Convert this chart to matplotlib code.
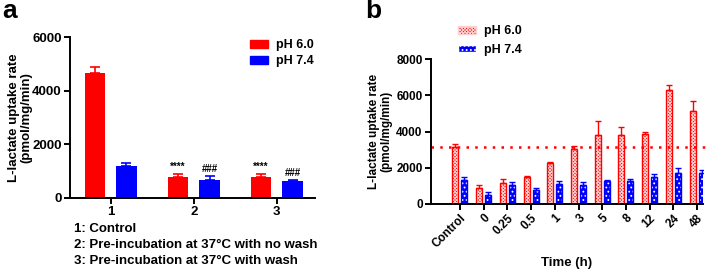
import numpy as np
import matplotlib
matplotlib.use("Agg")
import matplotlib.pyplot as plt
from matplotlib.patches import Patch

plt.rcParams['font.family'] = ['Liberation Sans', 'DejaVu Sans']
plt.rcParams['font.weight'] = 'bold'
plt.rcParams['axes.labelweight'] = 'bold'
plt.rcParams['hatch.linewidth'] = 0.8

# panel a data
a_groups = ["1", "2", "3"]
a_ph60 = [4650, 780, 800]
a_ph60_err = [220, 100, 80]
a_ph74 = [1200, 680, 620]
a_ph74_err = [90, 140, 50]
a_marks60 = ["****", "****"]
a_marks74 = ["###", "###"]
a_notes = ["1: Control",
           "2: Pre-incubation at 37\u00b0C with no wash",
           "3: Pre-incubation at 37\u00b0C with wash"]

# panel b data
b_times = ["Control", "0", "0.25", "0.5", "1", "3", "5", "8", "12", "24", "48"]
b_ph60 = [3140, 880, 1140, 1470, 2240, 3010, 3790, 3810, 3880, 6310, 5150]
b_ph60_err = [150, 190, 220, 60, 80, 190, 770, 440, 90, 280, 530]
b_ph74 = [1300, 480, 1050, 790, 1100, 1070, 1270, 1250, 1510, 1730, 1730]
b_ph74_err = [190, 180, 170, 90, 150, 150, 60, 150, 130, 260, 130]
b_control_line = 3150

RED = "#ff0000"
BLUE = "#0000ff"
off = 0.19
w = 0.25

fig = plt.figure(figsize=(7.17, 2.74), dpi=100)

# ---- panel a ----
ax = fig.add_axes([70/717, 1-198/274, 245/717, 161/274])
x = np.arange(len(a_groups))
ax.bar(x - off, a_ph60, w, color=RED, yerr=[np.zeros(3), a_ph60_err],
       error_kw=dict(ecolor=RED, capsize=3.5, elinewidth=1.2, capthick=1.2))
ax.bar(x + off, a_ph74, w, color=BLUE, yerr=[np.zeros(3), a_ph74_err],
       error_kw=dict(ecolor=BLUE, capsize=3.5, elinewidth=1.2, capthick=1.2))
for i in range(1, 3):
    ax.text(x[i] - off, a_ph60[i] + a_ph60_err[i] + 80, a_marks60[i-1],
            ha='center', va='bottom', fontsize=7)
    ax.text(x[i] + off, a_ph74[i] + a_ph74_err[i] + 80, a_marks74[i-1],
            ha='center', va='bottom', fontsize=7)
ax.set_xlim(-0.49, 2.46)
ax.set_ylim(0, 6000)
ax.set_yticks([0, 2000, 4000, 6000])
ax.set_xticks(x)
ax.set_xticklabels(a_groups)
ax.set_ylabel("L-lactate uptake rate\n(pmol/mg/min)", fontsize=9.5,
              linespacing=1.0)
ax.yaxis.set_label_coords(-0.155, 0.5)
ax.legend(handles=[Patch(color=RED, label="pH 6.0"), Patch(color=BLUE, label="pH 7.4")],
          loc='upper left', bbox_to_anchor=(250/717, 1-39/274), bbox_transform=fig.transFigure,
          frameon=False, fontsize=9, handlelength=1.45, handleheight=0.6,
          handletextpad=0.6, labelspacing=0.35, borderpad=0, borderaxespad=0)
for s in ["top", "right"]:
    ax.spines[s].set_visible(False)
for s in ["left", "bottom"]:
    ax.spines[s].set_linewidth(1.4)
ax.tick_params(axis='both', width=1.4, length=4, labelsize=9.5, pad=2)
for i, t in enumerate(a_notes):
    fig.text(74/717, 1-(229+16*i)/274, t, fontsize=9.5, va='center')
fig.text(2/717, 1-11/274, "a", fontsize=19, va='center')

# ---- panel b ----
bx = fig.add_axes([431/717, 1-204/274, 272/717, 145/274])
xb = np.arange(len(b_times))
bx.bar(xb - off, b_ph60, w, color=RED, edgecolor="#ffd0d0", hatch="xxxxxxxxxx", linewidth=0)
bx.bar(xb - off, b_ph60, w, fill=False, edgecolor=RED, linewidth=1.0,
       yerr=[np.zeros(len(xb)), b_ph60_err],
       error_kw=dict(ecolor=RED, capsize=2.5, elinewidth=1.0, capthick=1.0))
bx.bar(xb + off, b_ph74, w, color=BLUE, edgecolor="white", hatch="....", linewidth=0)
bx.bar(xb + off, b_ph74, w, fill=False, edgecolor=BLUE, linewidth=1.0,
       yerr=[np.zeros(len(xb)), b_ph74_err],
       error_kw=dict(ecolor=BLUE, capsize=2.5, elinewidth=1.0, capthick=1.0))
bx.axhline(b_control_line, color=RED, linestyle=(0, (1, 2.5)), linewidth=1.8,
           xmin=0, xmax=1.03, clip_on=False)
bx.set_xlim(-1.22, 10.25)
bx.set_ylim(0, 8000)
bx.set_yticks([0, 2000, 4000, 6000, 8000])
bx.set_xticks(xb)
bx.set_xticklabels(b_times, rotation=45, ha='right', rotation_mode='anchor')
bx.set_ylabel("L-lactate uptake rate\n(pmol/mg/min)", fontsize=8.5, labelpad=3,
              linespacing=1.0)
bx.set_xlabel("Time (h)", fontsize=9.5, labelpad=5)
h60 = Patch(facecolor=RED, edgecolor="#ffd0d0", hatch="xxxxxxxxxx", label="pH 6.0")
h74 = Patch(facecolor=BLUE, edgecolor="white", hatch="....", label="pH 7.4")
bx.legend(handles=[h60, h74],
          loc='upper left', bbox_to_anchor=(458/717, 1-25/274), bbox_transform=fig.transFigure,
          frameon=False, fontsize=9, handlelength=1.45, handleheight=0.6,
          handletextpad=0.6, labelspacing=0.55, borderpad=0, borderaxespad=0)
for s in ["top", "right"]:
    bx.spines[s].set_visible(False)
for s in ["left", "bottom"]:
    bx.spines[s].set_linewidth(1.4)
bx.tick_params(axis='both', width=1.4, length=4, labelsize=8.5, pad=2)
fig.text(365/717, 1-11/274, "b", fontsize=19, va='center')

fig.savefig("out.png", dpi=100)
